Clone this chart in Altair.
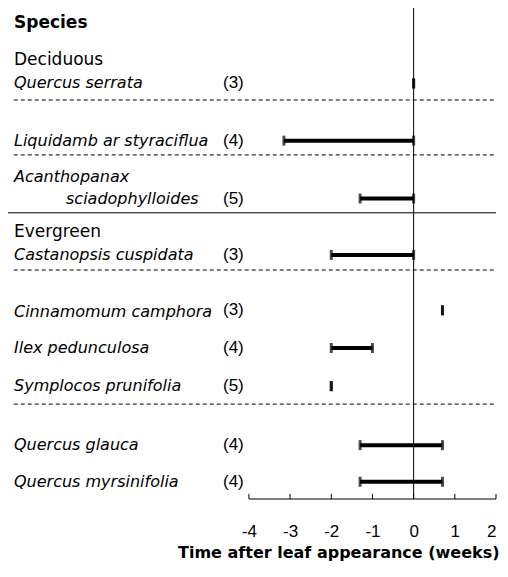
import altair as alt
import pandas as pd

# ---- data ----
species = ["Quercus serrata", "Liquidambar styraciflua", "Acanthopanax sciadophylloides",
           "Castanopsis cuspidata", "Cinnamomum camphora", "Ilex pedunculosa",
           "Symplocos prunifolia", "Quercus glauca", "Quercus myrsinifolia"]
n_trees = [3, 4, 5, 3, 3, 4, 5, 4, 4]
start_wk = [0, -3.15, -1.3, -2, 0.7, -2, -2, -1.3, -1.3]
end_wk = [0, 0, 0, 0, 0.7, -1, -2, 0.7, 0.7]
x_ticks = [-4, -3, -2, -1, 0, 1, 2]

# ---- layout (row slots, top = 0) ----
row_pos = [2.06, 3.62, 5.20, 6.74, 8.25, 9.28, 10.32, 11.93, 12.93]
dash_rows = [2.51, 4.01, 7.15, 10.81]
solid_rows = [5.59]
axis_row = 13.4
Y_MAX = 13.4
X_MIN = -9.85

ARIAL = "Liberation Sans"
DEJA = "DejaVu Sans"

bars = pd.DataFrame({"species": species, "n": [f"({v})" for v in n_trees],
                     "start": start_wk, "end": end_wk, "row": row_pos})
bars["is_point"] = bars["start"] == bars["end"]

italic_lines = pd.DataFrame({
    "text": ["Quercus serrata", "Liquidamb ar styraciflua", "Acanthopanax", "sciadophylloides",
             "Castanopsis cuspidata", "Cinnamomum camphora", "Ilex pedunculosa",
             "Symplocos prunifolia", "Quercus glauca", "Quercus myrsinifolia"],
    "indent": [0, 0, 0, 1, 0, 0, 0, 0, 0, 0],
    "row": [2.06, 3.62, 4.61, 5.20, 6.74, 8.30, 9.28, 10.32, 11.93, 12.93],
})
group_lines = pd.DataFrame({"text": ["Deciduous", "Evergreen"], "row": [1.42, 6.11]})
header = pd.DataFrame({"text": ["Species"], "row": [0.41]})

dash_df = pd.DataFrame({"row": dash_rows, "x0": X_MIN + 0.14, "x1": 2.0})
solid_df = pd.DataFrame({"row": solid_rows, "x0": X_MIN, "x1": 2.0})
zero_df = pd.DataFrame({"x": [0], "y0": [0], "y1": [axis_row]})
axis_df = pd.DataFrame({"x0": [x_ticks[0]], "x1": [x_ticks[-1]], "row": [axis_row]})
tick_df = pd.DataFrame({"x": x_ticks, "y0": axis_row, "y1": axis_row - 0.14})

xscale = alt.Scale(domain=[X_MIN, 2.0], nice=False, zero=False)
yscale = alt.Scale(domain=[0, Y_MAX], reverse=True, nice=False, zero=False)

xaxis = alt.Axis(values=x_ticks, domain=False, ticks=False, grid=False,
                 labelFont=ARIAL, labelFontSize=17, labelColor="black", labelPadding=24,
                 labelExpr="datum.value < 0 ? '-' + abs(datum.value) : '' + datum.value",
                 title="Time after leaf appearance (weeks)", titleFont=DEJA,
                 titleFontSize=16, titleFontWeight="bold", titleColor="black",
                 titleX=491, titleAlign="right", titlePadding=5)


def X(field):
    return alt.X(field, type="quantitative", scale=xscale, axis=xaxis)


def Y(field):
    return alt.Y(field, type="quantitative", scale=yscale, axis=None)


base_bars = alt.Chart(bars)

bar_lines = base_bars.transform_filter("!datum.is_point").mark_rule(
    color="black", strokeWidth=4).encode(x=X("start"), x2="end", y=Y("row"))
cap_start = base_bars.mark_tick(color="black", orient="vertical", size=10, thickness=3).encode(
    x=X("start"), y=Y("row"))
cap_end = base_bars.mark_tick(color="black", orient="vertical", size=10, thickness=3).encode(
    x=X("end"), y=Y("row"))

counts = base_bars.mark_text(align="left", baseline="middle", font=ARIAL, fontSize=17,
                             color="black").encode(x=alt.value(215), y=Y("row"), text="n")

italic_base = alt.Chart(italic_lines)
italic_style = dict(align="left", baseline="middle", font=DEJA, fontSize=16,
                    fontStyle="italic", color="black")
italic = italic_base.transform_filter("datum.indent == 0").mark_text(**italic_style).encode(
    x=alt.value(6), y=Y("row"), text="text")
italic_ind = italic_base.transform_filter("datum.indent == 1").mark_text(**italic_style).encode(
    x=alt.value(58), y=Y("row"), text="text")

groups = alt.Chart(group_lines).mark_text(
    align="left", baseline="middle", font=DEJA, fontSize=17, color="black"
).encode(x=alt.value(6), y=Y("row"), text="text")

head = alt.Chart(header).mark_text(
    align="left", baseline="middle", font=DEJA, fontSize=17, fontWeight="bold", color="black"
).encode(x=alt.value(6), y=Y("row"), text="text")

dashes = alt.Chart(dash_df).mark_rule(color="black", strokeWidth=1, strokeDash=[4, 3]).encode(
    x=X("x0"), x2="x1", y=Y("row"))
solids = alt.Chart(solid_df).mark_rule(color="black", strokeWidth=1).encode(
    x=X("x0"), x2="x1", y=Y("row"))
zero_line = alt.Chart(zero_df).mark_rule(color="black", strokeWidth=1).encode(
    x=X("x"), y=Y("y0"), y2="y1")
axis_line = alt.Chart(axis_df).mark_rule(color="black", strokeWidth=1).encode(
    x=X("x0"), x2="x1", y=Y("row"))
axis_ticks = alt.Chart(tick_df).mark_rule(color="black", strokeWidth=1).encode(
    x=X("x"), y=Y("y0"), y2="y1")

chart = alt.layer(
    dashes, solids, zero_line, axis_line, axis_ticks,
    bar_lines, cap_start, cap_end, counts, italic, italic_ind, groups, head
).properties(
    width=488, height=491,
    autosize=alt.AutoSizeParams(type="none"),
    padding={"left": 0, "top": 0, "right": 4, "bottom": 64},
).configure_view(strokeWidth=0)

chart.save("out.html", embed_options={"renderer": "svg", "actions": False})
